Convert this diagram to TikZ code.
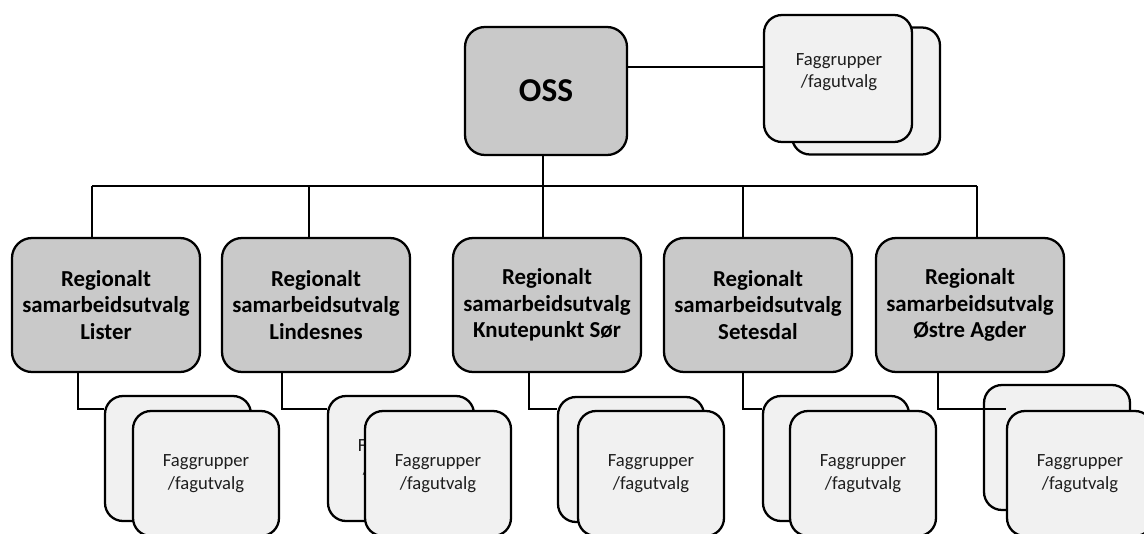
\documentclass[tikz,border=0pt]{standalone}
\usepackage{fontspec}
\setmainfont{Carlito}
\usetikzlibrary{backgrounds}
\definecolor{bg1}{RGB}{201,201,201}
\definecolor{bg2}{RGB}{241,241,241}
\definecolor{t1}{RGB}{30,30,30}

\begin{document}
\begin{tikzpicture}[
    l/.style={
        line width=1pt,
        color=black
    },
    r/.style={
        rounded corners=0.4cm, minimum width=3.76cm, minimum height=2.68cm,
        fill=bg1, draw=black, line width=1.3pt, align=center,
        font={\fontsize{13}{15.2}\selectfont\bfseries}
    },
    o/.style={r, minimum width=3.24cm, minimum height=2.56cm,
        font={\fontsize{19}{21}\selectfont\bfseries}},
    f/.style={
        rounded corners=0.36cm, minimum width=2.92cm, minimum height=2.5cm,
        fill=bg2, draw=black, line width=1.3pt, align=center, text=t1,
        font={\fontsize{10.6}{13}\selectfont}
    },
    ft/.style={align=center, text=t1, font={\fontsize{10.6}{12.5}\selectfont}}
]

    \useasboundingbox (0,0) rectangle (22.88,-10.68);

    \node [o] (O) at (10.92, -1.82) {OSS};
    \node [f, minimum width=2.96cm, minimum height=2.54cm] (TB) at (17.32, -1.82) {};
    \node [f, minimum width=2.96cm, minimum height=2.54cm] (TF) at (16.76, -1.57) {};
    \node [ft] (TT) at (16.78, -1.44) {Faggrupper\\/fagutvalg};

    \node [r] (R1) at ( 2.12, -6.10) {Regionalt\\samarbeidsutvalg\\Lister};
    \node [r] (R2) at ( 6.32, -6.10) {Regionalt\\samarbeidsutvalg\\Lindesnes};
    \node [r] (R3) at (10.94, -6.10) {Regionalt\\samarbeidsutvalg\\Knutepunkt Sør};
    \node [r] (R4) at (15.16, -6.10) {Regionalt\\samarbeidsutvalg\\Setesdal};
    \node [r] (R5) at (19.40, -6.10) {Regionalt\\samarbeidsutvalg\\Østre Agder};

    \node [f] (B1) at ( 3.56, -9.17) {};
    \node [f] (F1) at ( 4.12, -9.47) {Faggrupper\\/fagutvalg};
    \node [f] (B2) at ( 8.02, -9.17) {Faggrupper\\/fagutvalg};
    \node [f] (F2) at ( 8.76, -9.47) {Faggrupper\\/fagutvalg};
    \node [f] (B3) at (12.62, -9.19) {};
    \node [f] (F3) at (13.02, -9.47) {Faggrupper\\/fagutvalg};
    \node [f] (B4) at (16.72, -9.17) {};
    \node [f] (F4) at (17.26, -9.47) {Faggrupper\\/fagutvalg};
    \node [f] (B5) at (21.14, -8.95) {};
    \node [f] (F5) at (21.60, -9.47) {Faggrupper\\/fagutvalg};

    % bus and drop points
    \coordinate (t)  at ( 0   , -1.34);
    \coordinate (b1) at ( 1.84, -3.72);
    \coordinate (b2) at ( 6.18, -3.72);
    \coordinate (b3) at (10.86, -3.72);
    \coordinate (b4) at (14.86, -3.72);
    \coordinate (b5) at (19.54, -3.72);
    \coordinate (c1) at ( 1.56, -8.18);
    \coordinate (c2) at ( 5.64, -8.18);
    \coordinate (c3) at (10.58, -8.18);
    \coordinate (c4) at (14.86, -8.18);
    \coordinate (c5) at (18.76, -8.18);

    \begin{scope}[on background layer]
        \draw [l] (O.east |- t) -- (TF.west |- t);
        \draw [l] (b3 |- O.south) -- (b3);
        \draw [l] (b1) -- (b5);
        \foreach \i in {1,...,5} {
            \draw [l] (b\i) -- (b\i |- R\i.north);
            \draw [l] (c\i |- R\i.south) -- (c\i) -- (c\i -| B\i.west);
        }
    \end{scope}
    \draw [l] (c5 -| B5.west) -- (c5 -| F5.west);

\end{tikzpicture}
\end{document}
